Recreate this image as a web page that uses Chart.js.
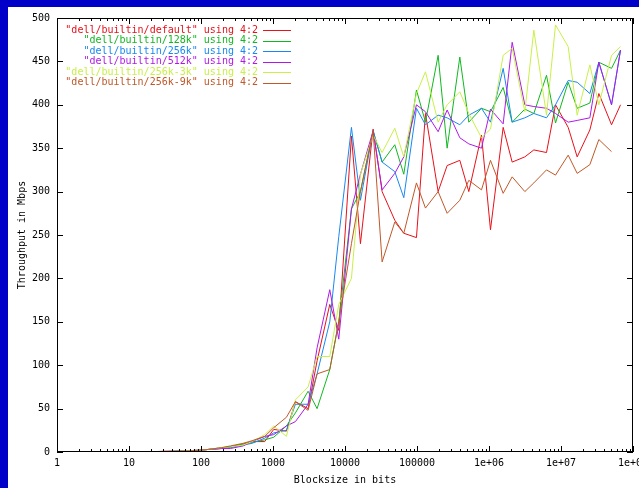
<!DOCTYPE html>
<html>
<head>
<meta charset="utf-8">
<script src="https://cdn.jsdelivr.net/npm/chart.js@4"></script>
<style>
html, body { margin:0; padding:0; background:#0000c8; }
body { width:639px; height:488px; overflow:hidden; position:relative; }
#wrap { position:absolute; left:8px; top:7px; width:631px; height:481px; background:#fff; }
</style>
</head>
<body>
<div id="wrap"><canvas id="myChart" width="631" height="481"></canvas></div>
<script>
// block sizes (bits)
var blocksizes = [1,1.5,2,3,4,6,8,12,16,24,32,48,64,96,128,192,256,384,512,768,
  1024,1536,2048,3072,4096,6144,8192,12288,16384,24576,32768,49152,65536,98304,
  131072,196608,262144,393216,524288,786432,1048576,1572864,2097152,3145728,
  4194304,6291456,8388608,12582912,16777216,25165824,33554432,50331648,67108864];

var names = ["dell/builtin/default","dell/builtin/128k","dell/builtin/256k",
  "dell/builtin/512k","dell/builtin/256k-3k","dell/builtin/256k-9k"];
var colors = ["#e8101a","#10b820","#1888f0","#b018e8","#c8f048","#c05828"];

var tputDefault = [0,0,0,0,0,0,0,0,0,0.5,1,1,1.5,2,3,4,6,9,12,12,26,24,58,50,105,170,140,364,240,372,
  300,267,252,247,390,300,330,336,300,365,256,374,334,340,348,345,400,374,340,371,413,377,400];
var tput128k = [0,0,0,0,0,0,0,0,0,0.3,0.5,1,1.5,2,3,5,6,9,11,14,17,30,45,70,50,95,150,280,300,370,
  334,354,320,417,380,457,350,455,380,396,392,420,380,395,390,434,379,426,396,402,449,442,463];
var tput256k = [0,0,0,0,0,0,0,0,0,0.3,0.5,1,1.5,2,3,4,5,8,10,16,22,25,55,55,90,150,248,374,290,370,
  334,323,293,396,377,388,385,377,388,396,380,442,380,385,390,385,400,428,426,413,449,400,463];
var tput512k = [0,0,0,0,0,0,0,0,0,0.3,0.5,1,1.5,2,3,4,4,7,12,18,20,30,35,55,120,187,130,280,320,370,
  302,321,340,400,392,369,394,362,355,350,395,378,472,400,398,396,390,380,382,385,449,400,463];
var tput256k3k = [0,0,0,0,0,0,0,0,0,0.3,0.5,1,1.5,2,3,5,6,8,12,20,30,18,60,75,110,110,170,200,320,365,
  345,373,340,413,438,380,400,415,390,362,372,457,465,392,486,388,492,467,388,446,400,457,467];
var tput256k9k = [0,0,0,0,0,0,0,0,0,0.2,0.4,0.8,1.2,2,3,5,7,10,13,18,28,40,58,48,90,95,150,240,300,370,
  219,265,252,310,281,300,275,290,313,302,336,298,317,300,310,325,319,342,321,331,360,346,null];

var series = [tputDefault, tput128k, tput256k, tput512k, tput256k3k, tput256k9k];
var xTicks = [1,10,100,1000,10000,100000,1e6,1e7,1e8];
var monoFont = "'DejaVu Sans Mono', monospace";

// gnuplot style frame with inward ticks, plus the key in the top left
var gnuFrame = {
  id: "gnuFrame",
  afterDatasetsDraw: function(chart) {
    var ctx = chart.ctx, a = chart.chartArea;
    var x = chart.scales.x, y = chart.scales.y;
    ctx.save();
    ctx.strokeStyle = "#000";
    ctx.lineWidth = 1;
    ctx.beginPath();
    xTicks.forEach(function(v) {
      var px = Math.round(x.getPixelForValue(v)) + 0.5;
      ctx.moveTo(px, a.bottom); ctx.lineTo(px, a.bottom - 6);
      ctx.moveTo(px, a.top); ctx.lineTo(px, a.top + 6);
    });
    for (var d = 0; d < 8; d++) {
      for (var m = 2; m < 10; m++) {
        var px = Math.round(x.getPixelForValue(m * Math.pow(10, d))) + 0.5;
        ctx.moveTo(px, a.bottom); ctx.lineTo(px, a.bottom - 3);
        ctx.moveTo(px, a.top); ctx.lineTo(px, a.top + 3);
      }
    }
    for (var v = 0; v <= 500; v += 50) {
      var py = Math.round(y.getPixelForValue(v)) + 0.5;
      ctx.moveTo(a.left, py); ctx.lineTo(a.left + 6, py);
      ctx.moveTo(a.right, py); ctx.lineTo(a.right - 6, py);
    }
    ctx.stroke();
    ctx.strokeRect(Math.round(a.left) + 0.5, Math.round(a.top) + 0.5,
      Math.round(a.width) - 1, Math.round(a.height) - 1);

    // key
    ctx.font = "10px " + monoFont;
    ctx.textAlign = "right";
    ctx.textBaseline = "middle";
    for (var i = 0; i < names.length; i++) {
      var ty = a.top + 12 + i * 10.5;
      ctx.fillStyle = colors[i];
      ctx.fillText('"' + names[i] + '" using 4:2', a.left + 201, ty);
      ctx.beginPath();
      ctx.strokeStyle = colors[i];
      ctx.moveTo(a.left + 206, Math.round(ty) + 0.5);
      ctx.lineTo(a.left + 234, Math.round(ty) + 0.5);
      ctx.stroke();
    }
    ctx.restore();
  }
};

var ctx = document.getElementById("myChart").getContext("2d");
var chart = new Chart(ctx, {
  type: "line",
  data: {
    datasets: series.map(function(vals, i) {
      return {
        label: '"' + names[i] + '" using 4:2',
        data: blocksizes.map(function(b, j) { return {x: b, y: vals[j]}; }),
        borderColor: colors[i],
        borderWidth: 1,
        pointRadius: 0,
        tension: 0,
        spanGaps: false,
        order: series.length - i
      };
    })
  },
  options: {
    responsive: false,
    animation: false,
    devicePixelRatio: 1,
    layout: { padding: { top: 11, right: 6, left: 0, bottom: 0 } },
    plugins: { legend: { display: false }, tooltip: { enabled: false } },
    scales: {
      x: {
        type: "logarithmic",
        min: 1,
        max: 1e8,
        grid: { display: false, drawTicks: false },
        border: { display: false },
        afterBuildTicks: function(scale) {
          scale.ticks = xTicks.map(function(v) { return {value: v}; });
        },
        afterFit: function(scale) {
          scale.height = 36;
          scale.paddingLeft = 0;
          scale.paddingRight = 0;
        },
        ticks: {
          autoSkip: false,
          maxRotation: 0,
          padding: 5,
          color: "#000",
          font: { family: monoFont, size: 10 },
          callback: function(v) {
            if (v < 1e6) return String(v);
            return "1e+0" + Math.round(Math.log10(v));
          }
        },
        title: {
          display: true,
          text: "Blocksize in bits",
          color: "#000",
          font: { family: monoFont, size: 10 },
          padding: { top: 0, bottom: 2 }
        }
      },
      y: {
        min: 0,
        max: 500,
        grid: { display: false, drawTicks: false },
        border: { display: false },
        afterFit: function(scale) {
          scale.width = 49;
          scale.paddingTop = 0;
          scale.paddingBottom = 0;
        },
        ticks: {
          stepSize: 50,
          padding: 7,
          color: "#000",
          font: { family: monoFont, size: 10 }
        },
        title: {
          display: true,
          text: "Throughput in Mbps",
          color: "#000",
          font: { family: monoFont, size: 10 },
          padding: { top: 8, bottom: 0 }
        }
      }
    }
  },
  plugins: [gnuFrame]
});
</script>
</body>
</html>
